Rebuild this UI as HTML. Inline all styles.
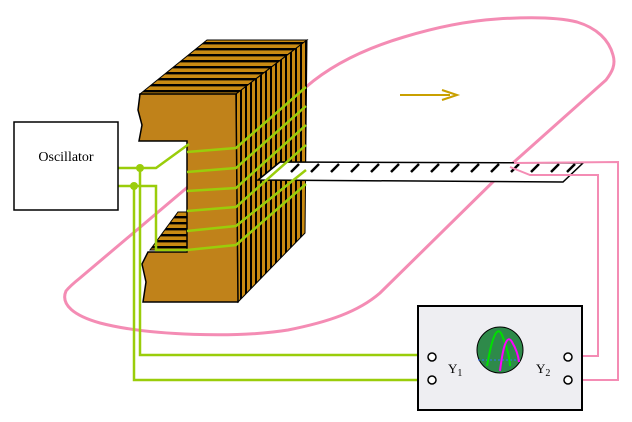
<!DOCTYPE html>
<html><head><style>body{margin:0;background:#fff}svg{display:block}</style></head><body>
<svg width="632" height="422" viewBox="0 0 632 422" xmlns="http://www.w3.org/2000/svg" font-family="Liberation Serif, serif">
<defs>
<pattern id="vs" width="5" height="10" patternUnits="userSpaceOnUse"><rect width="5" height="10" fill="#c98a12"/><rect width="2" height="10" fill="#000"/></pattern>
<pattern id="hs" width="10" height="6" patternUnits="userSpaceOnUse"><rect width="10" height="6" fill="#c98a12"/><rect width="10" height="2.4" fill="#000"/></pattern>
</defs>
<!-- pink loop -->
<path d="M306,87 C337,60 377,45 404,37 C437,27 467,21 497,19 C527,17 557,17 577,22 C597,28 609,40 613,55 C616,65 612,72 606,80 L505,170 L380,293 C358,312 328,322 288,330 C238,338 150,336 100,323 C75,316 60,305 66,291 C70,286 75,282 80,278 Z" fill="none" stroke="#f48cb4" stroke-width="3"/>
<!-- core top face -->
<polygon points="140,94 207,40 307,40 236,94" fill="url(#hs)" stroke="#000"/>
<polygon points="150,250 187,250 187,212 178,212" fill="url(#hs)" stroke="#000"/>
<polygon points="236,94 307,40 305,233 238,302" fill="url(#vs)" stroke="#000"/>
<path d="M140,94 L236,94 L238,302 L143,302 L146,282 L142,264 L148,252 L187,252 L187,141 L139,141 L142,125 L138,110 Z" fill="#c0821a" stroke="#000" stroke-width="1.5"/>
<!-- bar -->
<polygon points="280,162 583,163 563,182 258,180" fill="#fff" stroke="#000" stroke-width="1.5"/>
<g stroke="#000" stroke-width="2.5">
<line x1="291" y1="172" x2="299" y2="164"/><line x1="311" y1="172" x2="319" y2="164"/><line x1="331" y1="172" x2="339" y2="164"/><line x1="351" y1="172" x2="359" y2="164"/><line x1="371" y1="172" x2="379" y2="164"/><line x1="391" y1="172" x2="399" y2="164"/><line x1="411" y1="172" x2="419" y2="164"/><line x1="431" y1="172" x2="439" y2="164"/><line x1="451" y1="172" x2="459" y2="164"/><line x1="471" y1="172" x2="479" y2="164"/><line x1="491" y1="172" x2="499" y2="164"/><line x1="511" y1="172" x2="519" y2="164"/><line x1="531" y1="172" x2="539" y2="164"/><line x1="551" y1="172" x2="559" y2="164"/><line x1="567" y1="172" x2="575" y2="164"/>
</g>
<!-- coils -->
<g stroke="#9acd0a" stroke-width="2.5" fill="none">
<polyline points="187,152 236,148 306,87"/>
<polyline points="187,172 236,168 306,106"/>
<polyline points="187,191 236,188 306,125"/>
<polyline points="187,211 236,207 306,145"/>
<polyline points="187,231 236,226 306,170"/>
<polyline points="187,250 236,245 306,184"/>
<polyline points="116,168 156,168 189,144"/>
<polyline points="116,186 156,186 156,250 187,250"/>
<polyline points="140,168 140,355 428,355"/>
<polyline points="134,186 134,380 428,380"/>
</g>
<circle cx="140" cy="168" r="4" fill="#9acd0a"/>
<circle cx="134" cy="186" r="4" fill="#9acd0a"/>
<!-- pink leads -->
<g stroke="#f48cb4" stroke-width="2" fill="none">
<polyline points="510,167 530,175 598,175 598,356 572,356"/>
<polyline points="514,163 618,162 618,380 572,380"/>
</g>
<!-- arrow -->
<line x1="400" y1="95" x2="450" y2="95" stroke="#c9a000" stroke-width="2"/>
<polyline points="442,90 457,95 442,100" fill="none" stroke="#c9a000" stroke-width="2"/>
<rect x="14" y="122" width="104" height="88" fill="#fff" stroke="#000" stroke-width="1.5"/>
<text x="66" y="161" font-size="14" text-anchor="middle">Oscillator</text>
<rect x="418" y="306" width="164" height="104" fill="#eeeef2" stroke="#000" stroke-width="2"/>
<circle cx="500" cy="350" r="23" fill="#2e8a4a" stroke="#000"/>
<line x1="478" y1="360" x2="522" y2="360" stroke="#3070ff" stroke-dasharray="2,2"/>
<path d="M487,366 Q495,320 502,335 Q510,355 510,366" fill="none" stroke="#00e000" stroke-width="2"/>
<path d="M500,371 Q505,330 512,342 Q518,352 519,362" fill="none" stroke="#ff00ff" stroke-width="2"/>
<g fill="#fff" stroke="#000" stroke-width="1.5">
<circle cx="432" cy="357" r="4"/><circle cx="432" cy="380" r="4"/><circle cx="568" cy="357" r="4"/><circle cx="568" cy="380" r="4"/>
</g>
<text x="448" y="373" font-size="13">Y<tspan font-size="10" dy="3">1</tspan></text>
<text x="536" y="373" font-size="13">Y<tspan font-size="10" dy="3">2</tspan></text>
</svg>
</body></html>
